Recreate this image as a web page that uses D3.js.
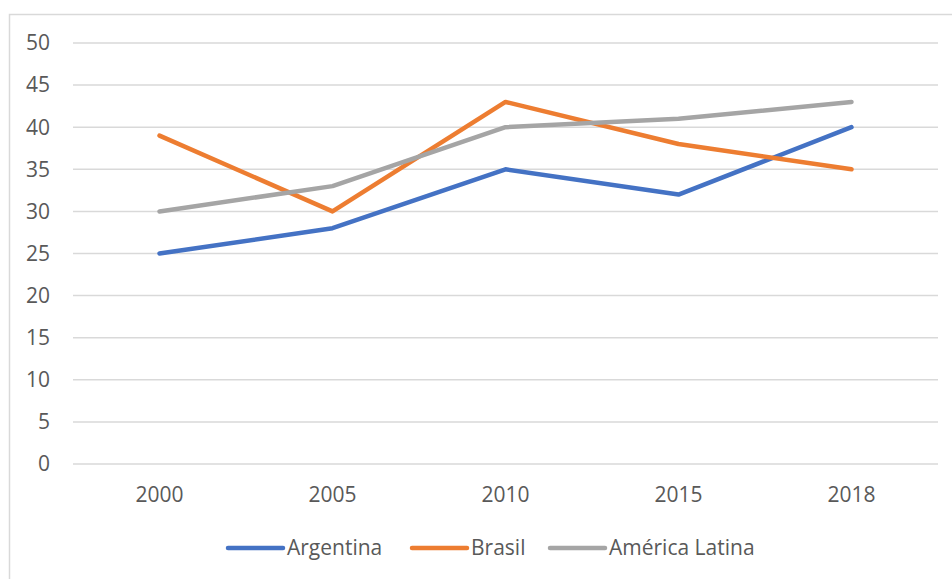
<!DOCTYPE html>
<html>
<head>
<meta charset="utf-8">
<script src="https://cdn.jsdelivr.net/npm/d3@7"></script>
<style>
  body { margin: 0; background: #fff; }
  text { font-family: "Open Sans", sans-serif; fill: #595959; }
</style>
</head>
<body>
<script>
// data
const years = ["2000", "2005", "2010", "2015", "2018"];
const argentina = [25, 28, 35, 32, 40];
const brasil = [39, 30, 43, 38, 35];
const americaLatina = [30, 33, 40, 41, 43];
const yTicks = [0, 5, 10, 15, 20, 25, 30, 35, 40, 45, 50];

const series = [
  { name: "Argentina", values: argentina, color: "#4472C4" },
  { name: "Brasil", values: brasil, color: "#ED7D31" },
  { name: "América Latina", values: americaLatina, color: "#A5A5A5" }
];

const w = 952;
const h = 579;

const svg = d3.select("body")
  .append("svg")
  .attr("width", w)
  .attr("height", h);

// chart frame (cut off at right and bottom)
svg.append("rect")
  .attr("x", 9.5)
  .attr("y", 14.5)
  .attr("width", 960)
  .attr("height", 600)
  .attr("fill", "none")
  .attr("stroke", "#D9D9D9")
  .attr("stroke-width", 1.5);

const x = d3.scaleBand()
  .domain(years)
  .range([73, 938]);

const y = d3.scaleLinear()
  .domain([0, 50])
  .range([464, 43]);

// gridlines
svg.selectAll(".grid")
  .data(yTicks).enter()
  .append("line")
  .attr("x1", 73)
  .attr("x2", 938)
  .attr("y1", d => y(d))
  .attr("y2", d => y(d))
  .style("stroke", "#D9D9D9")
  .style("stroke-width", 1.5);

// y labels
svg.selectAll(".ylab")
  .data(yTicks).enter()
  .append("text")
  .attr("x", 50)
  .attr("y", d => y(d))
  .attr("dy", "0.35em")
  .attr("text-anchor", "end")
  .attr("font-size", "21px")
  .text(d => d);

// x labels
svg.selectAll(".xlab")
  .data(years).enter()
  .append("text")
  .attr("x", d => x(d) + x.bandwidth() / 2)
  .attr("y", 495)
  .attr("dy", "0.35em")
  .attr("text-anchor", "middle")
  .attr("font-size", "21px")
  .text(d => d);

const line = d3.line()
  .x((d, i) => x(years[i]) + x.bandwidth() / 2)
  .y(d => y(d));

svg.selectAll(".series")
  .data(series).enter()
  .append("path")
  .attr("d", d => line(d.values))
  .attr("fill", "none")
  .attr("stroke", d => d.color)
  .attr("stroke-width", 4.5)
  .attr("stroke-linecap", "round")
  .attr("stroke-linejoin", "round");

// legend
const legendX = [228, 412, 550];
const legend = svg.selectAll(".legend")
  .data(series).enter()
  .append("g")
  .attr("transform", (d, i) => `translate(${legendX[i]}, 548)`);

legend.append("line")
  .attr("x1", 0)
  .attr("x2", 55)
  .attr("stroke", d => d.color)
  .attr("stroke-width", 4.5)
  .attr("stroke-linecap", "round");

legend.append("text")
  .attr("x", 59)
  .attr("dy", "0.35em")
  .attr("font-size", "21px")
  .text(d => d.name);
</script>
</body>
</html>
